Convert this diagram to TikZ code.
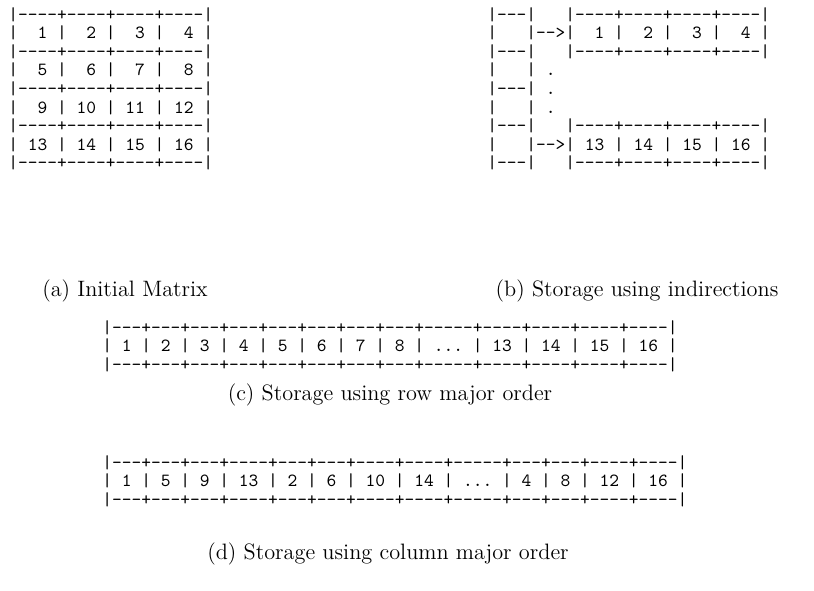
\documentclass[tikz,border=0pt]{standalone}
\begin{document}
\begin{tikzpicture}[x=0.5385pt,y=-0.5385pt,
  ascii/.style={anchor=north west,inner sep=0pt,align=left,
    font=\fontsize{10}{10}\selectfont\ttfamily},
  caption/.style={anchor=center,inner sep=0pt,
    font=\fontsize{12}{14}\selectfont}]
\useasboundingbox (0,0) rectangle (814,591);

% (a) the 4x4 matrix
\node[ascii] (matA) at (8,7) {%
|----+----+----+----|\\
|~~1~|~~2~|~~3~|~~4~|\\
|----+----+----+----|\\
|~~5~|~~6~|~~7~|~~8~|\\
|----+----+----+----|\\
|~~9~|~10~|~11~|~12~|\\
|----+----+----+----|\\
|~13~|~14~|~15~|~16~|\\
|----+----+----+----|};

% (b) array of row pointers
\node[ascii] (indir) at (487,7) {%
|---|~~~|----+----+----+----|\\
|~~~|-->|~~1~|~~2~|~~3~|~~4~|\\
|---|~~~|----+----+----+----|\\
|~~~|~.\\
|---|~.\\
|~~~|~.\\
|---|~~~|----+----+----+----|\\
|~~~|-->|~13~|~14~|~15~|~16~|\\
|---|~~~|----+----+----+----|};

\node[caption] (capA) at (125,291) {(a) Initial Matrix};
\node[caption] (capB) at (637,291) {(b) Storage using indirections};

% (c) row major layout
\node[ascii] (rowmaj) at (102,320) {%
|---+---+---+---+---+---+---+---+-----+----+----+----+----|\\
|~1~|~2~|~3~|~4~|~5~|~6~|~7~|~8~|~...~|~13~|~14~|~15~|~16~|\\
|---+---+---+---+---+---+---+---+-----+----+----+----+----|};
\node[caption] (capC) at (390,395) {(c) Storage using row major order};

% (d) column major layout
\node[ascii] (colmaj) at (102,455) {%
|---+---+---+----+---+---+----+----+-----+---+---+----+----|\\
|~1~|~5~|~9~|~13~|~2~|~6~|~10~|~14~|~...~|~4~|~8~|~12~|~16~|\\
|---+---+---+----+---+---+----+----+-----+---+---+----+----|};
\node[caption] (capD) at (388,554) {(d) Storage using column major order};
\end{tikzpicture}
\end{document}
